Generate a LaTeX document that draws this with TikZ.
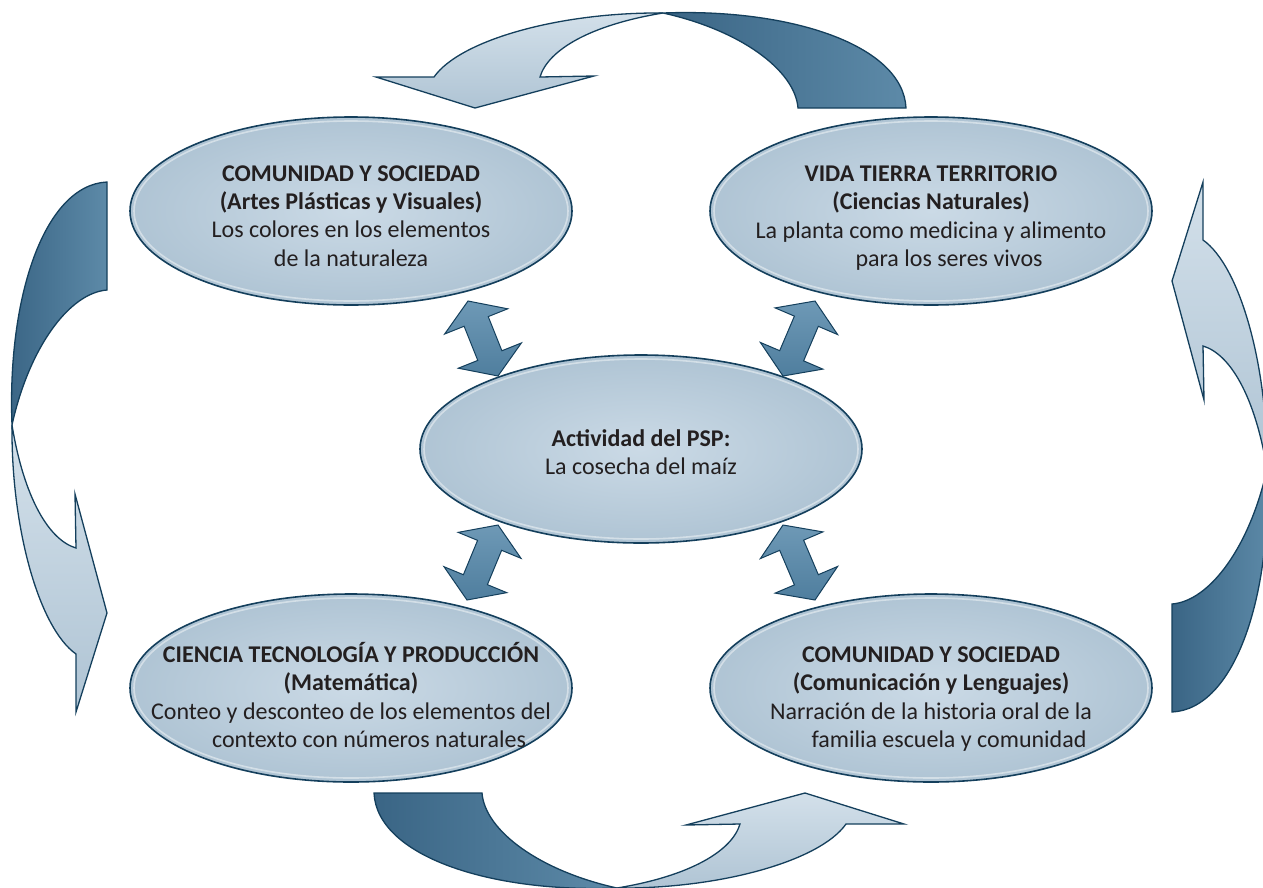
\documentclass[tikz,border=0pt]{standalone}
\usepackage{fontspec}
\setmainfont{Carlito}
\usetikzlibrary{shapes.geometric,calc}
\definecolor{edgec}{HTML}{143F5C}
\definecolor{ellin}{HTML}{CBDAE6}
\definecolor{ellout}{HTML}{AFC4D4}
\definecolor{darkA}{HTML}{3A6585}
\definecolor{darkB}{HTML}{5D8AA8}
\definecolor{lightA}{HTML}{D3E0EA}
\definecolor{lightB}{HTML}{AFC4D4}
\definecolor{dblA}{HTML}{4F7E9E}
\definecolor{dblB}{HTML}{6E99B6}
\definecolor{txtc}{HTML}{231F20}
\tikzset{
  ell/.style={shape=ellipse, draw=edgec, line width=1.6pt, inner color=ellin, outer color=ellout,
    minimum width=442pt, minimum height=188pt, inner sep=0pt},
  rim/.style={draw=white, draw opacity=.45, line width=1.6pt},
  txt/.style={align=center, text=txtc, font=\fontsize{24pt}{28.3pt}\selectfont, inner sep=0pt},
  dbl/.style={draw=edgec, line width=1pt, line join=miter, top color=dblB, bottom color=dblA},
  bigdark/.style={draw=edgec, line width=1.3pt, left color=darkA, right color=darkB},
  biglight/.style={draw=edgec, line width=1.3pt, top color=lightA, bottom color=lightB},
}
\newcommand\dblarr[2]{%
  \draw[dbl] (#1) -- ($(#1)!22pt!(#2)!34pt!90:(#2)$) -- ($(#1)!22pt!(#2)!13pt!90:(#2)$)
    -- ($(#2)!22pt!(#1)!13pt!-90:(#1)$) -- ($(#2)!22pt!(#1)!34pt!-90:(#1)$) -- (#2)
    -- ($(#2)!22pt!(#1)!34pt!90:(#1)$) -- ($(#2)!22pt!(#1)!13pt!90:(#1)$)
    -- ($(#1)!22pt!(#2)!13pt!-90:(#2)$) -- ($(#1)!22pt!(#2)!34pt!-90:(#2)$) -- cycle;}
\newcommand\cyclearrow{%
  \draw[bigdark] (663,13) .. controls (790,8) and (903,45) .. (906,108) -- (798,108)
    .. controls (795,70) and (740,30) .. (663,13) -- cycle;
  \draw[biglight] (663,13) .. controls (560,12) and (460,40) .. (434,77) -- (376,77) -- (475,108)
    -- (594,76) -- (540,77) .. controls (548,50) and (590,25) .. (663,13) -- cycle;}
\begin{document}
\begin{tikzpicture}[x=1pt,y=-1pt]
\useasboundingbox (0,0) rectangle (1263,887);
\clip (0,0) rectangle (1263,887);
% cycle arrows
\begin{scope}\cyclearrow\end{scope}
\begin{scope}[cm={-1,0,0,-1,(1280pt,-901pt)}]\cyclearrow\end{scope}
\begin{scope}[cm={0,-1,1,0,(1280pt,194pt)}]\cyclearrow\end{scope}
\begin{scope}[cm={0,1,-1,0,(-1pt,-1088pt)}]\cyclearrow\end{scope}
% ellipses
\node[ell] (tl) at (351,211) {};
\node[ell] (tr) at (931,211) {};
\node[ell] (c)  at (641,449) {};
\node[ell] (bl) at (351,688) {};
\node[ell] (br) at (931,688) {};
\foreach \n in {tl,tr,c,bl,br}{\draw[rim] (\n.center) ellipse [x radius=217pt, y radius=90pt];}
% double arrows
\coordinate (d1a) at ($(tl.center)+(117,90)$);
\coordinate (d1b) at ($(c.center)+(-143,-73)$);
\coordinate (d2a) at ($(tr.center)+(-116,90)$);
\coordinate (d2b) at ($(c.center)+(142,-73)$);
\coordinate (d3a) at ($(c.center)+(-143,76)$);
\coordinate (d3b) at ($(bl.center)+(116,-88)$);
\coordinate (d4a) at ($(c.center)+(142,76)$);
\coordinate (d4b) at ($(br.center)+(-116,-88)$);
\dblarr{d1a}{d1b}
\dblarr{d2a}{d2b}
\dblarr{d3a}{d3b}
\dblarr{d4a}{d4b}
% texts
\node[txt] (tlt) at (351,216) {\textbf{COMUNIDAD Y SOCIEDAD}\\\textbf{(Artes Plásticas y Visuales)}\\Los colores en los elementos\\de la naturaleza};
\node[txt] (trt) at (931,218) {\textbf{VIDA TIERRA TERRITORIO}\\\textbf{(Ciencias Naturales)}\\La planta como medicina y alimento\\\hspace*{36pt}para los seres vivos};
\node[txt] (ct) at (641,452) {\textbf{Actividad del PSP:}\\La cosecha del maíz};
\node[txt] (blt) at (351,695) {\textbf{CIENCIA TECNOLOGÍA Y PRODUCCIÓN}\\\textbf{(Matemática)}\\Conteo y desconteo de los elementos del\\\hspace*{36pt}contexto con números naturales};
\node[txt] (brt) at (931,699) {\textbf{COMUNIDAD Y SOCIEDAD}\\\textbf{(Comunicación y Lenguajes)}\\Narración de la historia oral de la\\\hspace*{36pt}familia escuela y comunidad};
\end{tikzpicture}
\end{document}
